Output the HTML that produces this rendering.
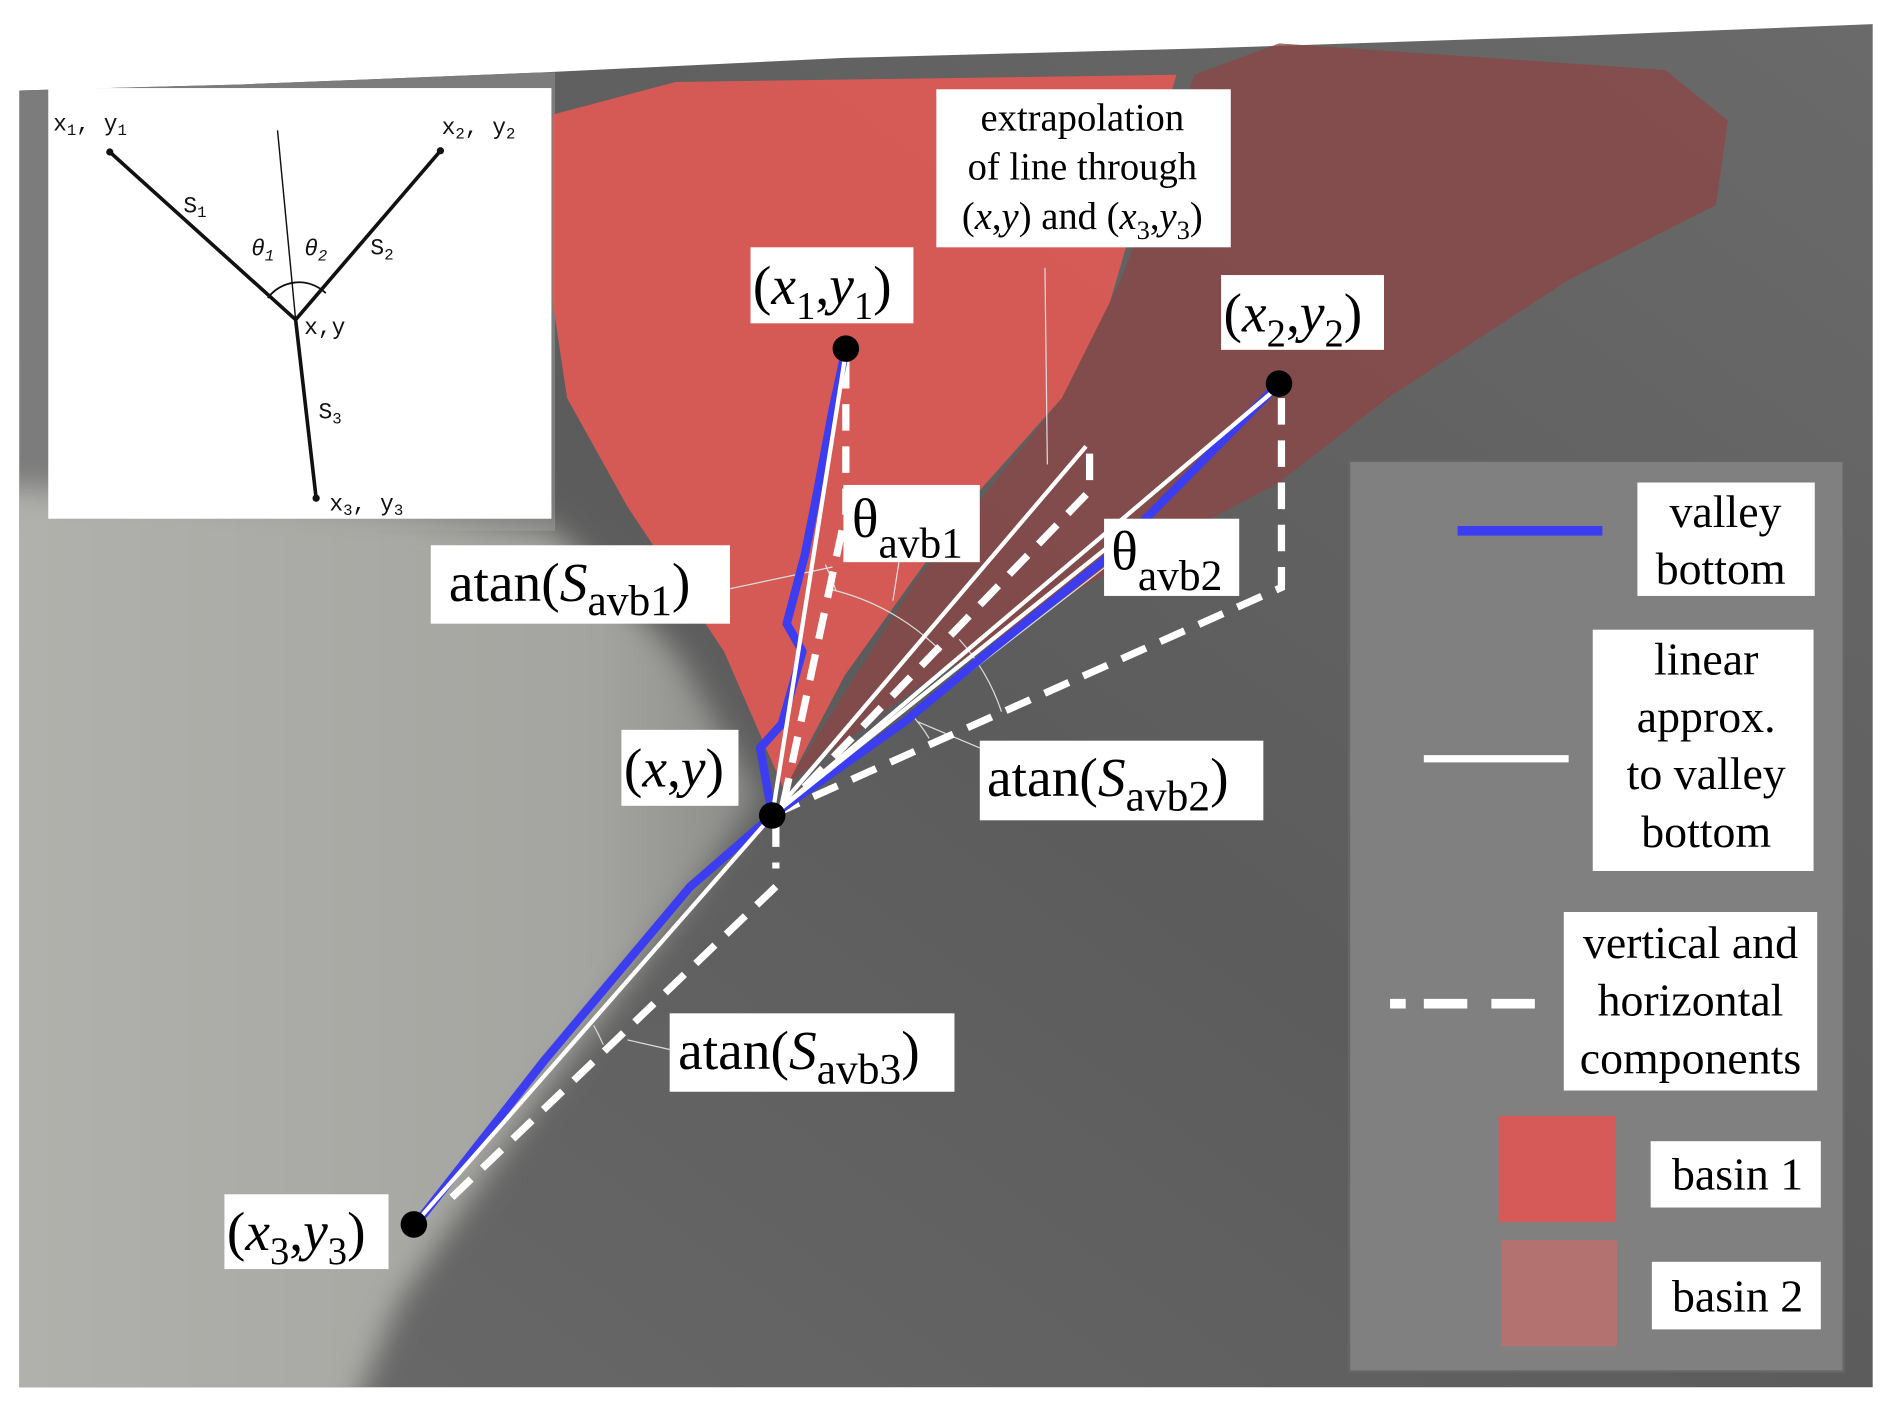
<!DOCTYPE html>
<html><head><meta charset="utf-8"><style>
html,body{margin:0;padding:0;background:#fff;width:1892px;height:1409px;overflow:hidden}
svg{display:block;font-family:"Liberation Serif",serif}
</style></head><body>
<svg width="1892" height="1409" viewBox="0 0 1568 1168" preserveAspectRatio="none" xmlns="http://www.w3.org/2000/svg">
<defs>
<linearGradient id="bg" x1="0" y1="1" x2="1" y2="0">
<stop offset="0" stop-color="#6a6a6a"/>
<stop offset="0.5" stop-color="#5c5c5c"/>
<stop offset="1" stop-color="#6a6a6a"/>
</linearGradient>
<linearGradient id="lt" x1="0" y1="0" x2="1" y2="0">
<stop offset="0" stop-color="#b2b2ae"/>
<stop offset="0.8" stop-color="#a4a4a0"/>
<stop offset="1" stop-color="#8a8a88"/>
</linearGradient>
<filter id="blur" x="-30%" y="-30%" width="160%" height="160%"><feGaussianBlur stdDeviation="12"/></filter>
<clipPath id="clipbg"><polygon points="16,75 200,70 450,60 700,48 1000,40 1300,30 1552,20 1552,1150 16,1150"/></clipPath>
</defs>
<!-- background terrain -->
<polygon points="16,75 200,70 450,60 700,48 1000,40 1300,30 1552,20 1552,1150 16,1150" fill="url(#bg)"/>
<g clip-path="url(#clipbg)">
<polygon points="0,60 460,60 460,440 0,440" fill="#7c7c7c"/>
<g filter="url(#blur)">
<polygon points="-60,400 300,420 460,440 560,540 630,660 560,760 440,920 330,1080 280,1200 -60,1200" fill="url(#lt)"/>
</g>
</g>
<!-- basin 2 -->
<polygon points="990,62 1060,36 1380,58 1432,100 1422,170 1300,232 1150,330 1060,400 900,485 760,570 652,650 760,480 880,330 930,230" fill="#8c4646" opacity="0.78"/>
<!-- basin 1 -->
<polygon points="458,95 560,68 975,62 920,250 880,330 800,420 700,560 650,655 600,540 520,420 470,330 458,250" fill="#df5a56" opacity="0.92"/>
<!-- inset -->
<rect x="40" y="73" width="417" height="357" fill="#fff"/>
<g stroke="#111" fill="none">
<line x1="245" y1="265" x2="91" y2="126" stroke-width="3"/>
<line x1="245" y1="265" x2="365" y2="125" stroke-width="3"/>
<line x1="245" y1="265" x2="262" y2="413" stroke-width="3"/>
<line x1="245" y1="265" x2="230" y2="108" stroke-width="1.2"/>
<path d="M222,247 A32,32 0 0 1 270,243" stroke-width="1.5"/>
</g>
<circle cx="91" cy="126" r="3" fill="#111"/><circle cx="365" cy="125" r="3" fill="#111"/><circle cx="262" cy="413" r="3" fill="#111"/>
<g font-size="19" fill="#111" font-family="'Liberation Mono',monospace">
<text x="44" y="108">x<tspan font-size="13" dy="4">1</tspan><tspan dy="-4">, y</tspan><tspan font-size="13" dy="4">1</tspan></text>
<text x="366" y="111">x<tspan font-size="13" dy="4">2</tspan><tspan dy="-4">, y</tspan><tspan font-size="13" dy="4">2</tspan></text>
<text x="152" y="176">S<tspan font-size="13" dy="4">1</tspan></text>
<text x="307" y="211">S<tspan font-size="13" dy="4">2</tspan></text>
<text x="208" y="212" font-style="italic">θ<tspan font-size="13" dy="4">1</tspan></text>
<text x="252" y="212" font-style="italic">θ<tspan font-size="13" dy="4">2</tspan></text>
<text x="252" y="277">x,y</text>
<text x="264" y="347">S<tspan font-size="13" dy="4">3</tspan></text>
<text x="273" y="423">x<tspan font-size="13" dy="4">3</tspan><tspan dy="-4">, y</tspan><tspan font-size="13" dy="4">3</tspan></text>
</g>
<!-- thin gray leader lines / arcs -->
<g stroke="#ddd" stroke-width="1" fill="none">
<line x1="866" y1="222" x2="868" y2="385"/>
<line x1="605" y1="488" x2="690" y2="470"/>
<line x1="745" y1="466" x2="740" y2="498"/>
<line x1="916" y1="470" x2="800" y2="560"/>
<line x1="812" y1="620" x2="760" y2="598"/>
<line x1="555" y1="870" x2="520" y2="862"/>
<path d="M690,489 A190,190 0 0 1 780,540"/>
<path d="M684,468 A210,210 0 0 1 693,490"/>
<path d="M795,530 A170,170 0 0 1 830,590"/>
<path d="M755,592 A120,120 0 0 1 770,612"/>
<path d="M492,850 A200,200 0 0 1 500,866"/>
</g>
<!-- dashed components -->
<g stroke="#fff" stroke-width="6" fill="none" stroke-dasharray="22,13">
<polyline points="701,300 701,425 648,672"/>
<polyline points="1062,330 1062,487 648,672"/>
<polyline points="903,376 903,407 648,672"/>
<line x1="643" y1="680" x2="643" y2="720"/>
<line x1="643" y1="735" x2="372" y2="995"/>
</g>
<!-- blue valley bottom -->
<g stroke="#3c3cf0" stroke-width="7" fill="none" stroke-linejoin="round">
<polyline points="350,1008 452,878 572,735 640,676"/>
<polyline points="640,676 630,620 648,600 665,540 652,517 667,460 675,420 690,340 701,289"/>
<polyline points="640,676 750,598 820,540 918,462 1060,318"/>
</g>
<!-- white linear approximations -->
<g stroke="#fff" stroke-width="3.5" fill="none">
<line x1="640" y1="676" x2="701" y2="292"/>
<line x1="640" y1="676" x2="1058" y2="322"/>
<line x1="640" y1="676" x2="900" y2="370"/>
<line x1="640" y1="676" x2="345" y2="1013"/>
<line x1="640" y1="676" x2="940" y2="436"/>
</g>
<!-- points -->
<g fill="#000">
<circle cx="701" cy="289" r="11"/><circle cx="1060" cy="318" r="11"/>
<circle cx="640" cy="676" r="11"/><circle cx="343" cy="1015" r="11"/>
</g>
<!-- labels -->
<g fill="#fff">
<rect x="622" y="205" width="135" height="63"/>
<rect x="1012" y="228" width="135" height="62"/>
<rect x="515" y="605" width="97" height="63"/>
<rect x="186" y="990" width="136" height="62"/>
<rect x="699" y="402" width="113" height="64"/>
<rect x="915" y="430" width="112" height="64"/>
<rect x="357" y="452" width="248" height="65"/>
<rect x="812" y="614" width="235" height="66"/>
<rect x="555" y="840" width="236" height="65"/>
<rect x="776" y="74" width="244" height="131"/>
</g>
<g fill="#000" font-size="46">
<text x="624" y="252">(<tspan font-style="italic">x</tspan><tspan font-size="32" dy="12">1</tspan><tspan dy="-12">,</tspan><tspan font-style="italic">y</tspan><tspan font-size="32" dy="12">1</tspan><tspan dy="-12">)</tspan></text>
<text x="1014" y="275">(<tspan font-style="italic">x</tspan><tspan font-size="32" dy="12">2</tspan><tspan dy="-12">,</tspan><tspan font-style="italic">y</tspan><tspan font-size="32" dy="12">2</tspan><tspan dy="-12">)</tspan></text>
<text x="517" y="652">(<tspan font-style="italic">x</tspan>,<tspan font-style="italic">y</tspan>)</text>
<text x="188" y="1036">(<tspan font-style="italic">x</tspan><tspan font-size="32" dy="12">3</tspan><tspan dy="-12">,</tspan><tspan font-style="italic">y</tspan><tspan font-size="32" dy="12">3</tspan><tspan dy="-12">)</tspan></text>
<text x="706" y="445">θ<tspan font-size="36" dy="17">avb1</tspan></text>
<text x="921" y="472">θ<tspan font-size="36" dy="17">avb2</tspan></text>
<text x="372" y="498">atan(<tspan font-style="italic">S</tspan><tspan font-size="36" dy="12">avb1</tspan><tspan dy="-12">)</tspan></text>
<text x="818" y="660">atan(<tspan font-style="italic">S</tspan><tspan font-size="36" dy="12">avb2</tspan><tspan dy="-12">)</tspan></text>
<text x="562" y="886">atan(<tspan font-style="italic">S</tspan><tspan font-size="36" dy="12">avb3</tspan><tspan dy="-12">)</tspan></text>
</g>
<g fill="#000" font-size="32" text-anchor="middle">
<text x="897" y="108">extrapolation</text>
<text x="897" y="149">of line through</text>
<text x="897" y="190">(<tspan font-style="italic">x</tspan>,<tspan font-style="italic">y</tspan>) and (<tspan font-style="italic">x</tspan><tspan font-size="22" dy="8">3</tspan><tspan dy="-8">,</tspan><tspan font-style="italic">y</tspan><tspan font-size="22" dy="8">3</tspan><tspan dy="-8">)</tspan></text>
</g>
<!-- legend -->
<rect x="1118" y="382" width="410" height="755" fill="#808080" stroke="#666" stroke-width="2"/>
<line x1="1208" y1="440" x2="1328" y2="440" stroke="#3c3cf0" stroke-width="8"/>
<line x1="1180" y1="629" x2="1300" y2="629" stroke="#fff" stroke-width="6"/>
<line x1="1152" y1="832" x2="1272" y2="832" stroke="#fff" stroke-width="8" stroke-dasharray="13,15,36,20,38"/>
<g fill="#fff">
<rect x="1357" y="400" width="147" height="94"/>
<rect x="1320" y="522" width="183" height="200"/>
<rect x="1296" y="756" width="210" height="148"/>
<rect x="1368" y="946" width="141" height="55"/>
<rect x="1369" y="1046" width="140" height="56"/>
</g>
<rect x="1242" y="925" width="97" height="88" fill="#d65a58"/>
<rect x="1244" y="1028" width="96" height="88" fill="#b37270"/>
<g fill="#000" font-size="38" text-anchor="middle">
<text x="1430" y="437">valley</text>
<text x="1426" y="484">bottom</text>
<text x="1414" y="559">linear</text>
<text x="1414" y="607">approx.</text>
<text x="1414" y="654">to valley</text>
<text x="1414" y="702">bottom</text>
<text x="1401" y="794">vertical and</text>
<text x="1401" y="842">horizontal</text>
<text x="1401" y="890">components</text>
<text x="1440" y="986">basin 1</text>
<text x="1440" y="1087">basin 2</text>
</g>
</svg>
</body></html>
